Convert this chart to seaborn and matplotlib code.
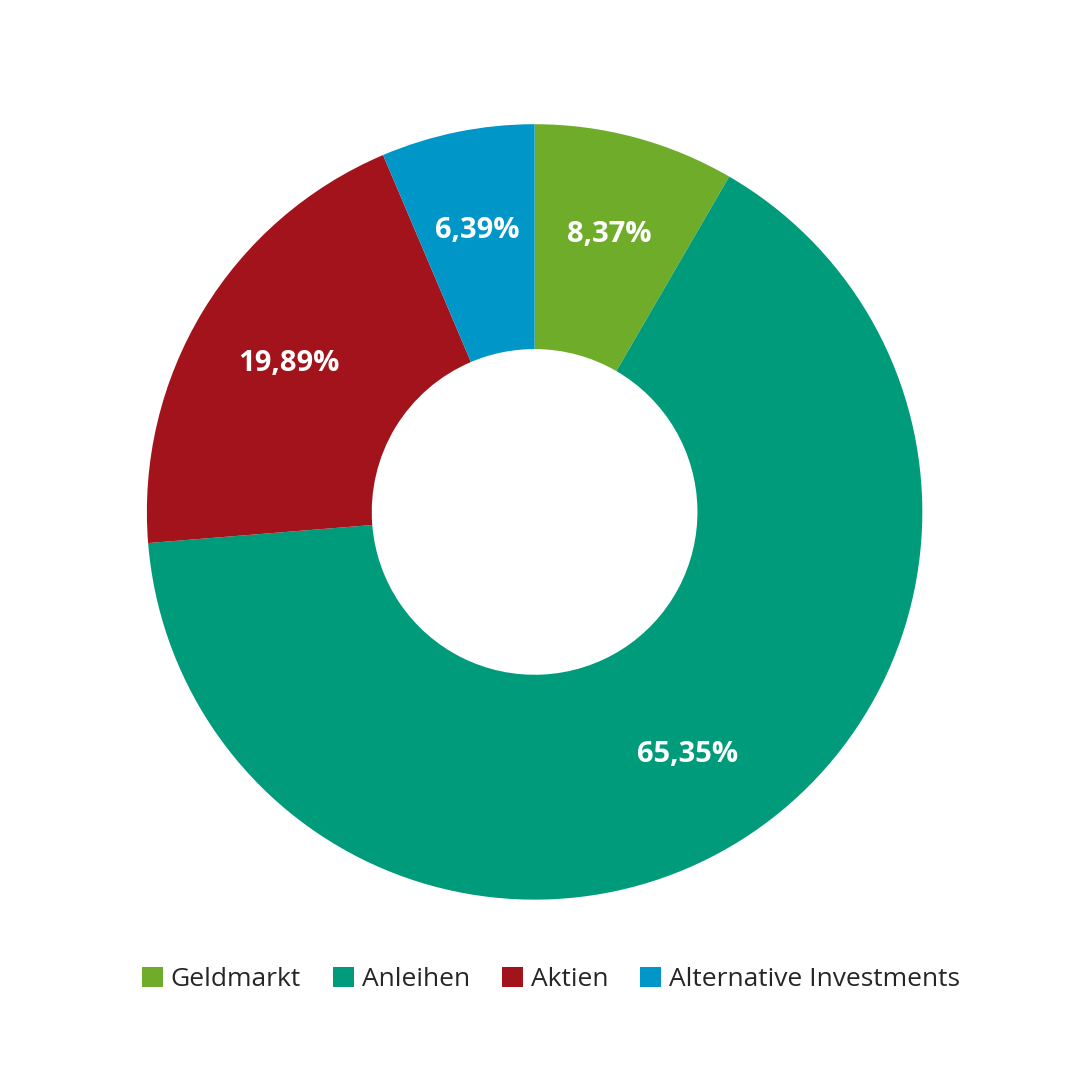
import matplotlib.pyplot as plt
import seaborn as sns

categories = ['Geldmarkt', 'Anleihen', 'Aktien', 'Alternative Investments']
shares = [8.37, 65.35, 19.89, 6.39]
labels = ['8,37%', '65,35%', '19,89%', '6,39%']
colors = sns.color_palette(['#6FAC2A', '#009B7B', '#A3131B', '#0096C8'])

sns.set_style('white')
plt.rcParams['font.family'] = ['Open Sans', 'DejaVu Sans']

fig = plt.figure(figsize=(10.8, 10.8), dpi=100)
ax = fig.add_axes([0.136, 0.167, 0.718, 0.718])
wedges, texts = ax.pie(shares, colors=colors, startangle=90, counterclock=False,
                       radius=1, wedgeprops=dict(width=0.58, edgecolor='none'))
for w, lab in zip(wedges, labels):
    import numpy as np
    ang = np.deg2rad((w.theta1 + w.theta2) / 2)
    ax.text(0.74 * np.cos(ang), 0.74 * np.sin(ang), lab, ha='center', va='center',
            color='white', fontsize=21, fontweight='bold')
ax.set_xlim(-1, 1)
ax.set_ylim(-1, 1)
ax.set_aspect('equal')
ax.axis('off')

fig.legend(wedges, categories, loc='center', bbox_to_anchor=(0.51, 0.093), ncol=4,
           frameon=False, fontsize=19, handlelength=0.8, handleheight=0.8,
           handletextpad=0.3, columnspacing=1.2)
fig.savefig('out.png', dpi=100)
